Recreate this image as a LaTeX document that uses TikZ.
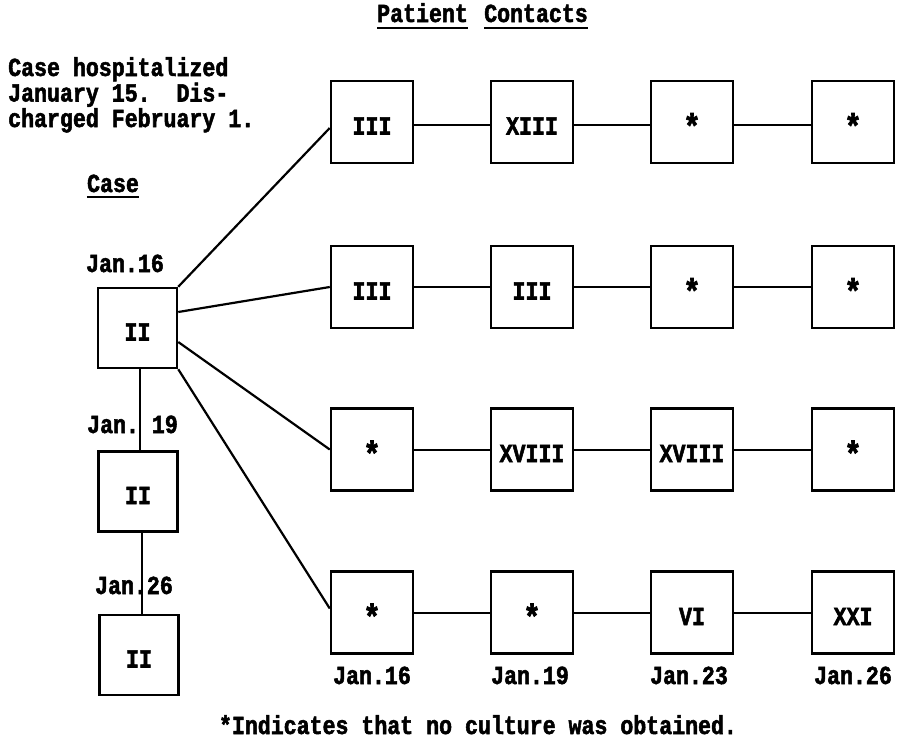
\documentclass[tikz,border=0pt]{standalone}
\usepackage{fontspec}
\newfontfamily\tw[FakeStretch=0.83,FakeBold=2]{Liberation Mono Bold}
\usetikzlibrary{calc}
\newcommand{\nocult}{\raisebox{-4pt}{\scalebox{1.35}{*}}}
\begin{document}
\begin{tikzpicture}[x=1pt,y=-1pt,
  every node/.style={font=\tw\fontsize{26}{28}\selectfont},
  cbox/.style={draw, line width=2.5pt, minimum width=82pt, minimum height=82pt,
               inner sep=0pt, text height=25pt, text depth=0pt},
  casebox/.style={cbox, minimum width=79pt, minimum height=80pt},
  lab/.style={inner sep=0pt, anchor=base},
  link/.style={line width=2.2pt},
  rowlink/.style={line width=2pt},
  uline/.style={line width=2pt}]
\useasboundingbox (0,0) rectangle (903,745);

% titles
\node[lab, anchor=base west] (pat) at (377,22) {Patient};
\node[lab, anchor=base west] (con) at (484,22) {Contacts};
\draw[uline] ([yshift=-6pt]pat.base west) -- ([yshift=-6pt]pat.base east);
\draw[uline] ([yshift=-6pt]con.base west) -- ([yshift=-6pt]con.base east);

\node[lab, anchor=base west] (note1) at (8,76) {Case hospitalized};
\node[lab, anchor=base west] (note2) at (8,101.5) {January 15.\ \ Dis-};
\node[lab, anchor=base west] (note3) at (8,127) {charged February 1.};

\node[lab] (caselab) at (113,192) {Case};
\draw[uline] ([yshift=-5pt]caselab.base west) -- ([yshift=-5pt]caselab.base east);

% case boxes
\node[casebox] (c1) at (137.5,328) {II};
\node[casebox] (c2) at (138,491.5) {II};
\node[casebox] (c3) at (139,655) {II};

\node[lab] (d1) at (125,272) {Jan.16};
\node[lab] (d2) at (132.5,433) {Jan.\ 19};
\node[lab] (d3) at (134,594) {Jan.26};

\draw[link] ([xshift=2.5pt]c1.south) -- ([xshift=2.5pt]c1.south |- c2.north);
\draw[link] ([xshift=4pt]c2.south) -- ([xshift=4pt]c2.south |- c3.north);

% contact boxes
\node[cbox] (r1c1) at (372,122) {III};
\node[cbox] (r1c2) at (532,122) {XIII};
\node[cbox] (r1c3) at (692,122) {\nocult};
\node[cbox] (r1c4) at (853,122) {\nocult};

\node[cbox] (r2c1) at (372,287) {III};
\node[cbox] (r2c2) at (532,287) {III};
\node[cbox] (r2c3) at (692,287) {\nocult};
\node[cbox] (r2c4) at (853,287) {\nocult};

\node[cbox] (r3c1) at (372,449.5) {\nocult};
\node[cbox] (r3c2) at (532,449.5) {XVIII};
\node[cbox] (r3c3) at (692,449.5) {XVIII};
\node[cbox] (r3c4) at (853,449.5) {\nocult};

\node[cbox] (r4c1) at (372,612.5) {\nocult};
\node[cbox] (r4c2) at (532,612.5) {\nocult};
\node[cbox] (r4c3) at (692,612.5) {VI};
\node[cbox] (r4c4) at (853,612.5) {XXI};

% links from case
\draw[link] (c1.north east) -- ([yshift=-6pt]r1c1.west);
\draw[link] ([yshift=16pt]c1.east) -- (r2c1.west);
\draw[link] ([yshift=-14pt]c1.east) -- (r3c1.west);
\draw[link] (c1.south east) -- ([yshift=4pt]r4c1.west);

% row links
\draw[rowlink] ([yshift=-3pt]r1c1.east) -- ([yshift=-3pt]r1c2.west);
\draw[rowlink] ([yshift=-3pt]r1c2.east) -- ([yshift=-3pt]r1c3.west);
\draw[rowlink] ([yshift=-3pt]r1c3.east) -- ([yshift=-3pt]r1c4.west);
\draw[rowlink] (r2c1) -- (r2c2);
\draw[rowlink] (r2c2) -- (r2c3);
\draw[rowlink] (r2c3) -- (r2c4);
\draw[rowlink] (r3c1) -- (r3c2);
\draw[rowlink] (r3c2) -- (r3c3);
\draw[rowlink] (r3c3) -- (r3c4);
\draw[rowlink] (r4c1) -- (r4c2);
\draw[rowlink] (r4c2) -- (r4c3);
\draw[rowlink] (r4c3) -- (r4c4);

% bottom dates
\node[lab] (b1) at (372,684) {Jan.16};
\node[lab] (b2) at (530,684) {Jan.19};
\node[lab] (b3) at (689,684) {Jan.23};
\node[lab] (b4) at (853,684) {Jan.26};

\node[lab] (foot) at (478,734) {*Indicates that no culture was obtained.};
\end{tikzpicture}
\end{document}
